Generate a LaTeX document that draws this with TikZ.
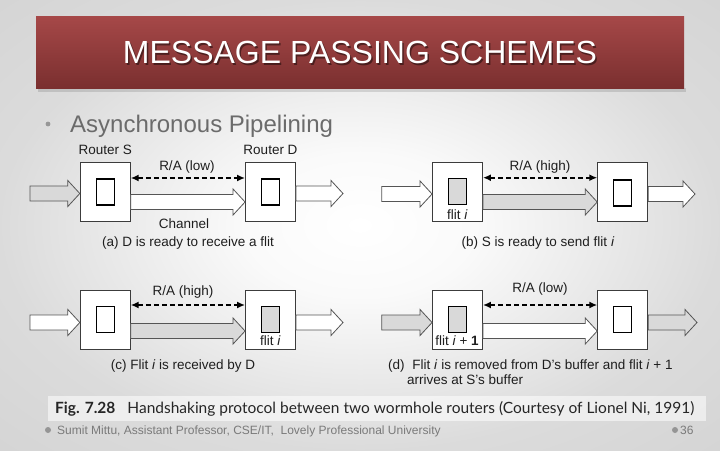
\documentclass[tikz,border=0pt]{standalone}
\usepackage{fontspec}
\setmainfont{Liberation Sans}
\newfontfamily\figfont{Lato}
\usetikzlibrary{calc,arrows.meta}
\definecolor{boxline}{HTML}{3C3C3C}
\definecolor{arrline}{HTML}{555555}
\definecolor{flitgray}{HTML}{D9D9D9}
\definecolor{bannertop}{HTML}{A64848}
\definecolor{bannerbot}{HTML}{7A2F2F}
\definecolor{bodygray}{HTML}{6B6B6B}
\definecolor{footgray}{HTML}{7A7A7A}
\definecolor{inkc}{HTML}{1E1E1E}
\pgfdeclareradialshading{slidebg}{\pgfpoint{0bp}{0bp}}{color(0bp)=(white); color(8bp)=(white!98!black); color(25bp)=(white!86!black); color(50bp)=(white!80!black)}
\newcommand\blockarr[3]{%
  \coordinate (bA) at (#1);
  \coordinate (bB) at (#2 |- bA);
  \filldraw[blockarrow, fill=#3] ($(bA)+(0,-7.5)$) -- ($(bB)+(-12,-7.5)$) -- ($(bB)+(-12,-13)$) -- (bB) -- ($(bB)+(-12,13)$) -- ($(bB)+(-12,7.5)$) -- ($(bA)+(0,7.5)$) -- cycle;}
\begin{document}
\begin{tikzpicture}[x=1pt,y=-1pt,
  router/.style={draw=boxline, line width=0.9pt, fill=white, minimum width=50pt, minimum height=59pt, inner sep=0pt},
  buf/.style={draw=black, line width=1.2pt, minimum width=18pt, minimum height=26pt, inner sep=0pt},
  blockarrow/.style={draw=arrline, line width=0.8pt, line join=miter},
  ra/.style={draw=black, line width=1.7pt, dash pattern=on 5pt off 3pt, {Latex[length=8pt,width=7pt]}-{Latex[length=8pt,width=7pt]}},
  lbl/.style={anchor=base, inner sep=0pt, text=inkc, font=\fontsize{13.5}{16}\selectfont},
  lbll/.style={lbl, anchor=base west},
]
\useasboundingbox (0,0) rectangle (720,450);
\shade[shading=slidebg] (0,0) rectangle (720,450);
% banner
\fill[black, opacity=0.12] (38,88) rectangle (686,92);
\shade[top color=bannertop, bottom color=bannerbot] (36,16) rectangle (684,88);
\node[anchor=base, inner sep=0pt, text=black, opacity=0.45, font=\fontsize{32}{38}\selectfont] (titlesh) at (361.5,65) {MESSAGE PASSING SCHEMES};
\node[anchor=base, inner sep=0pt, text=white, font=\fontsize{32}{38}\selectfont] (title) at (360,63.5) {MESSAGE PASSING SCHEMES};
% bullet line
\fill[bodygray!70] (48,124) circle (2.4);
\node[anchor=base west, inner sep=0pt, text=bodygray, font=\fontsize{24}{28}\selectfont] (sub) at (70,132.5) {Asynchronous Pipelining};

% ===== panel (a)
\node[router] (Sa) at (105.25,191.5) {};
\node[router] (Da) at (270.5,191.5) {};
\node[buf] (Sai) at (105.25,192) {};
\node[buf] (Dai) at (270.5,192) {};
\coordinate (ai) at (30,193.5);
\coordinate (ac) at (0,202);
\coordinate (ao) at (343,193.5);
\blockarr{ai}{Sa.west}{flitgray}
\blockarr{Sa.east |- ac}{Da.west}{white}
\blockarr{Da.east |- ao}{ao}{white}
\draw[ra] (Sa.east |- 0,178) -- (Da.west |- 0,178);
\node[lbl] (rsa) at (105.25,154) {Router S};
\node[lbl] (rda) at (270.5,154) {Router D};
\node[lbl] (raa) at (187,170.5) {R/A (low)};
\node[lbl] (cha) at (184,228.5) {Channel};
\node[lbl] (capa) at (188,246.5) {(a) D is ready to receive a flit};

% ===== panel (b)
\node[router] (Sb) at (457.5,191.5) {};
\node[router] (Db) at (622.7,192) {};
\node[buf, fill=flitgray] (Sbi) at (457.5,191.5) {};
\node[buf] (Dbi) at (622.7,193) {};
\coordinate (bi) at (381.7,194);
\coordinate (bc) at (0,202);
\coordinate (bo) at (695,194);
\blockarr{bi}{Sb.west}{white}
\blockarr{Sb.east |- bc}{Db.west}{flitgray}
\blockarr{Db.east |- bo}{bo}{white}
\draw[ra] (Sb.east |- 0,177.7) -- (Db.west |- 0,177.7);
\node[lbl] (rab) at (540,170.5) {R/A (high)};
\node[lbl] (flb) at (457.5,219) {flit \textit{i}};
\node[lbl] (capb) at (538,246.5) {(b) S is ready to send flit \textit{i}};

% ===== panel (c)
\node[router] (Sc) at (105.25,319.5) {};
\node[router] (Dc) at (270.5,319.5) {};
\node[buf] (Sci) at (105.25,319.5) {};
\node[buf, fill=flitgray] (Dci) at (270.5,319.5) {};
\coordinate (ci) at (30,322.5);
\coordinate (cc) at (0,331);
\coordinate (co) at (343,322.5);
\blockarr{ci}{Sc.west}{white}
\blockarr{Sc.east |- cc}{Dc.west}{flitgray}
\blockarr{Dc.east |- co}{co}{white}
\draw[ra] (Sc.east |- 0,305) -- (Dc.west |- 0,305);
\node[lbl] (rac) at (183,295.5) {R/A (high)};
\node[lbl] (flc) at (270.5,345.5) {flit \textit{i}};
\node[lbl] (capc) at (183,369.5) {(c) Flit \textit{i} is received by D};

% ===== panel (d)
\node[router] (Sd) at (457.5,319.5) {};
\node[router] (Dd) at (622.7,319.5) {};
\node[buf, fill=flitgray] (Sdi) at (457.5,319.5) {};
\node[buf] (Ddi) at (622.7,319.5) {};
\coordinate (di) at (381.7,322.5);
\coordinate (dc) at (0,331);
\coordinate (do) at (697,322.5);
\blockarr{di}{Sd.west}{flitgray}
\blockarr{Sd.east |- dc}{Dd.west}{white}
\blockarr{Dd.east |- do}{do}{flitgray}
\draw[ra] (Sd.east |- 0,305) -- (Dd.west |- 0,305);
\node[lbl] (rad) at (540,292.5) {R/A (low)};
\node[lbl] (fld) at (457,345.5) {flit \textit{i} + \textbf{1}};
\node[lbll] (capd1) at (388,369.5) {(d)\hspace{4pt} Flit \textit{i} is removed from D’s buffer and flit \textit{i} + 1};
\node[lbll] (capd2) at (407,384.5) {arrives at S’s buffer};

% figure caption band
\fill[white, opacity=0.55] (48,396) rectangle (706,421);
\node[anchor=base west, inner sep=0pt, text=black!85, font=\figfont\fontsize{15.5}{18}\selectfont] (figcap) at (55,413.5) {\textbf{Fig. 7.28}\hspace{12pt}Handshaking protocol between two wormhole routers (Courtesy of Lionel Ni, 1991)};

% footer
\fill[footgray!80] (48,430) circle (3);
\node[anchor=base west, inner sep=0pt, text=footgray, font=\fontsize{12}{14}\selectfont] (foot) at (57,434) {Sumit Mittu, Assistant Professor, CSE/IT,\ \ Lovely Professional University};
\fill[footgray!80] (675,430) circle (3);
\node[anchor=base west, inner sep=0pt, text=footgray, font=\fontsize{12}{14}\selectfont] (pnum) at (680,434) {36};
\end{tikzpicture}
\end{document}
